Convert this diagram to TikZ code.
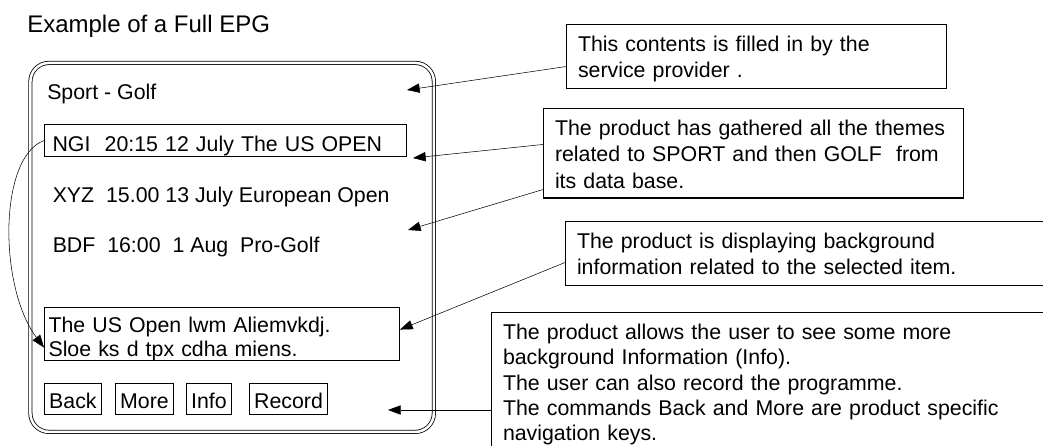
\documentclass[tikz,border=0pt]{standalone}
\usepackage{fontspec}
\setmainfont{Liberation Sans}
\usetikzlibrary{arrows.meta}

\begin{document}
\begin{tikzpicture}[x=0.75pt,y=-0.75pt,
  >={Triangle[length=9.5pt,width=7pt]}]
\useasboundingbox (0,0) rectangle (1043,446);
\clip (0,0) rectangle (1043,446);
\tikzstyle{every node}=[font=\fontsize{16}{20}\selectfont, inner sep=0pt]
\tikzstyle{frame}=[draw, line width=0.8pt, anchor=north west, align=left]
\tikzstyle{key}=[frame, inner xsep=3.5pt, text height=18.75pt, text depth=4.5pt]
\tikzstyle{note}=[frame, inner xsep=8.6pt, text height=20pt]

\node[anchor=base west, font=\fontsize{18}{22}\selectfont] (title) at (27,32.3) {Example of a Full EPG};

% the screen
\node[draw, double, line width=0.6pt, double distance=1.9pt, rounded corners=14pt,
      anchor=north west, minimum width=302.6pt, minimum height=276.75pt] (screen) at (30,62.5) {};
\node[anchor=base west] (sport) at (47,99.5) {Sport - Golf};
\node[frame, inner xsep=6pt, text width=259.5pt, text height=20.25pt, text depth=3.4pt] (ngi) at (44,124.3) {NGI~ 20:15 12 July The US OPEN};
\node[anchor=base west] (xyz) at (52.5,202.7) {XYZ~ 15.00 13 July European Open};
\node[anchor=base west] (bdf) at (52.5,252.7) {BDF~ 16:00~ 1 Aug~ Pro-Golf};
\node[frame, inner xsep=3pt, text width=260.25pt, text height=18.9pt, text depth=20.9pt,
      font=\fontsize{16}{18}\selectfont] (info) at (44,306.5) {The US Open lwm Aliemvkdj.\\Sloe ks d tpx cdha miens.};
\node[key] (back) at (44,383) {Back};
\node[key] (more) at (115,383) {More};
\node[key] (infokey) at (186,383) {Info};
\node[key] (record) at (249,383) {Record};

% the remarks
\node[note, text width=267.75pt, text depth=28pt] (filled) at (566,24)
  {This contents is filled in by the\\service provider .};
\node[note, text width=298pt, text depth=47.1pt] (gathered) at (543,108)
  {The product has gathered all the themes\\related to SPORT and then GOLF~ from\\its data base.};
\node[note, text width=357.75pt, text height=20.4pt, text depth=27.6pt] (background) at (565,220.5)
  {The product is displaying background\\information related to the selected item.};
\node[note, text width=417.75pt, text height=20.3pt, text depth=112pt,
      font=\fontsize{16}{19}\selectfont] (commands) at (491,312)
  {The product allows the user to see some more\\background Information (Info).\\The user can also record the programme.\\The commands Back and More are product specific\\navigation keys.};

\coordinate (c1) at (407,90);
\coordinate (c2) at (413,158);
\coordinate (c3) at (408,230);
\coordinate (c5) at (388,410);
\draw[->] ([yshift=-7.5pt]filled.west) -- (c1);
\draw[->] ([yshift=6.6pt]gathered.west) -- (c2);
\draw[->] ([yshift=-27.2pt]gathered.west) -- (c3);
\draw[->] ([yshift=-7.1pt]background.west) -- ([yshift=3pt]info.east);
\draw[->] ([yshift=-73.5pt]commands.north west) -- (c5);
\draw[->] (ngi.west) .. controls (-1.5,157) and (-1.5,287) .. ([yshift=-10.5pt]info.west);
\end{tikzpicture}
\end{document}
